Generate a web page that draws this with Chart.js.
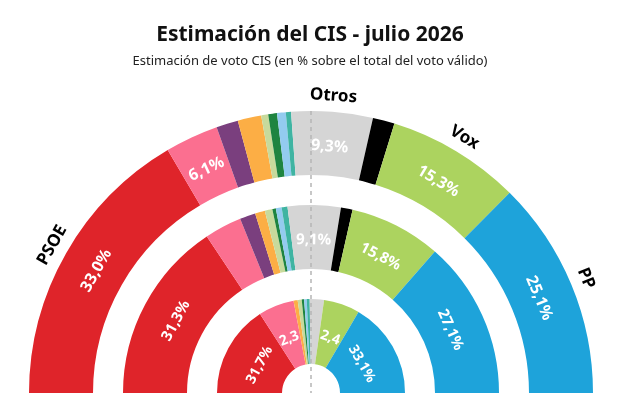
<!DOCTYPE html>
<html lang="es">
<head>
<meta charset="UTF-8">
<title>Estimación del CIS - julio 2026</title>
<script src="https://cdn.jsdelivr.net/npm/chart.js"></script>
<style>
  body { margin: 0; background: #fff; }
  #wrap { position: relative; width: 629px; height: 399px; }
  #titulo {
    position: absolute; left: 0; width: 620px; top: 19px;
    text-align: center; font: bold 21px "Noto Sans", sans-serif; color: #111;
  }
  #subtitulo {
    position: absolute; left: 0; width: 620px; top: 51px;
    text-align: center; font: 13px "Noto Sans", sans-serif; color: #222;
  }
  canvas { position: absolute; left: 0; top: 0; }
</style>
</head>
<body>
<div id="wrap">
  <canvas id="hemiciclo" width="629" height="399"></canvas>
  <div id="titulo">Estimación del CIS - julio 2026</div>
  <div id="subtitulo">Estimación de voto CIS (en % sobre el total del voto válido)</div>
</div>
<script>
// partidos, de izquierda a derecha del hemiciclo
const partidos = ['PSOE', 'Sumar', 'Podemos', 'ERC', 'EH Bildu', 'Junts', 'PNV', 'BNG', 'Otros', 'SALF', 'Vox', 'PP'];
const colores = ['#df242a', '#fb6f90', '#7a3f7e', '#fcae45', '#c7da9c', '#1e8440', '#93cbef', '#3fb4a2', '#d5d5d5', '#000000', '#acd35f', '#1ea3da'];

// anillo exterior: estimación julio 2026
const julio2026 = [33.0, 6.1, 2.5, 2.7, 0.8, 1.0, 1.0, 0.6, 9.3, 2.5, 15.3, 25.1];
// anillo central: estimación anterior
const anterior = [31.3, 6.4, 2.7, 1.7, 1.3, 0.6, 1.0, 1.0, 9.1, 2.0, 15.8, 27.1];
// anillo interior: elecciones generales
const elecciones = [31.7, 12.3, 0, 1.4, 1.4, 0.8, 0.9, 1.0, 4.9, 0, 12.4, 33.1];

const etiquetasJulio = ['33,0%', '6,1%', null, null, null, null, null, null, '9,3%', null, '15,3%', '25,1%'];
const etiquetasAnterior = ['31,3%', null, null, null, null, null, null, null, '9,1%', null, '15,8%', '27,1%'];
const etiquetasElecciones = ['31,7%', '2,3', null, null, null, null, null, null, null, null, '2,4', '33,1%'];

// nombres fuera del arco exterior
const nombres = ['PSOE', null, null, null, null, null, null, null, 'Otros', null, 'Vox', 'PP'];

const FUENTE = '"Noto Sans", sans-serif';

function anillo(valores, peso) {
  return {
    data: valores,
    backgroundColor: colores,
    borderWidth: 0,
    hoverBorderWidth: 0,
    hoverOffset: 0,
    weight: peso
  };
}

function hueco(peso) {
  return {
    data: [1],
    backgroundColor: 'rgba(0,0,0,0)',
    borderWidth: 0,
    hoverBorderWidth: 0,
    hoverOffset: 0,
    weight: peso
  };
}

function texto(ctx, t, x, y, ang, fuente, color) {
  ctx.save();
  ctx.translate(x, y);
  ctx.rotate(ang);
  ctx.font = fuente;
  ctx.fillStyle = color;
  ctx.textAlign = 'center';
  ctx.textBaseline = 'middle';
  ctx.fillText(t, 0, 0);
  ctx.restore();
}

const anillosRotulados = [
  { indice: 0, etiquetas: etiquetasJulio, fuente: 'bold 16px ' + FUENTE },
  { indice: 2, etiquetas: etiquetasAnterior, fuente: 'bold 15px ' + FUENTE },
  { indice: 4, etiquetas: etiquetasElecciones, fuente: 'bold 14px ' + FUENTE }
];

const rotulos = {
  id: 'rotulos',
  afterDatasetsDraw(chart) {
    const ctx = chart.ctx;
    const ext = chart.getDatasetMeta(0).data[0].getProps(['x', 'y', 'outerRadius'], true);

    // línea de mayoría
    ctx.save();
    ctx.strokeStyle = '#b5b5b5';
    ctx.lineWidth = 1.5;
    ctx.setLineDash([4, 4]);
    ctx.beginPath();
    ctx.moveTo(ext.x, ext.y - ext.outerRadius);
    ctx.lineTo(ext.x, ext.y);
    ctx.stroke();
    ctx.restore();

    anillosRotulados.forEach(function (a) {
      chart.getDatasetMeta(a.indice).data.forEach(function (arc, i) {
        const p = arc.getProps(['x', 'y', 'startAngle', 'endAngle', 'innerRadius', 'outerRadius'], true);
        const ang = (p.startAngle + p.endAngle) / 2;
        const r = (p.innerRadius + p.outerRadius) / 2 - 3;
        if (a.etiquetas[i]) {
          texto(ctx, a.etiquetas[i], p.x + r * Math.cos(ang), p.y + r * Math.sin(ang),
            ang + Math.PI / 2, a.fuente, '#fff');
        }
        if (a.indice === 0 && nombres[i]) {
          const rn = p.outerRadius + 16;
          texto(ctx, nombres[i], p.x + rn * Math.cos(ang), p.y + rn * Math.sin(ang),
            ang + Math.PI / 2, 'bold 17px ' + FUENTE, '#000');
        }
      });
    });
  }
};

new Chart(document.getElementById('hemiciclo'), {
  type: 'doughnut',
  data: {
    labels: partidos,
    datasets: [
      anillo(julio2026, 64),
      hueco(30),
      anillo(anterior, 64),
      hueco(30),
      anillo(elecciones, 65)
    ]
  },
  options: {
    responsive: false,
    animation: false,
    rotation: -90,
    circumference: 180,
    cutout: (29 / 282 * 100) + '%',
    layout: { padding: { top: 111, left: 29, right: 36, bottom: 6 } },
    plugins: {
      legend: { display: false },
      tooltip: { enabled: false }
    },
    events: []
  },
  plugins: [rotulos]
});
</script>
</body>
</html>
